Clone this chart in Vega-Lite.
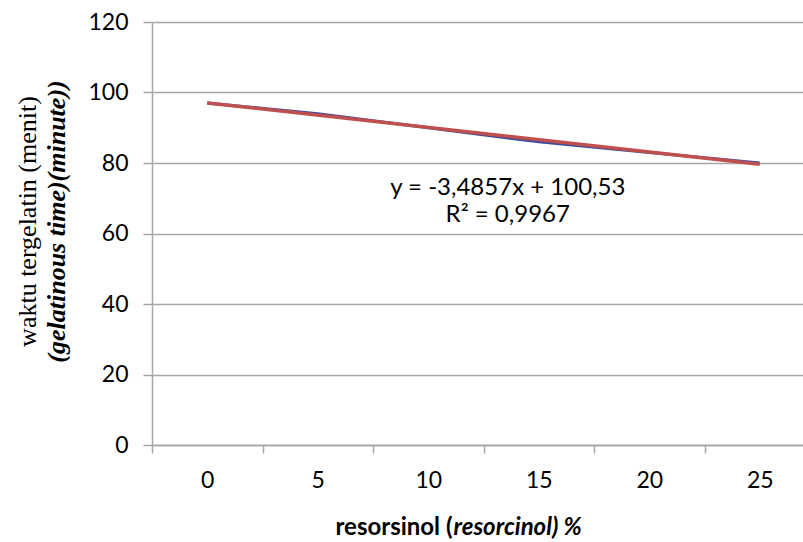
{
  "$schema": "https://vega.github.io/schema/vega-lite/v6.json",
  "autosize": {"type": "none"},
  "width": 663,
  "height": 423,
  "padding": {"left": 152, "top": 22, "right": 0, "bottom": 97},
  "background": "white",
  "config": {
    "view": {"stroke": null},
    "axis": {"labelFont": "Lato", "labelFontSize": 23, "labelColor": "#000000", "domainColor": "#A6A6A6", "tickColor": "#A6A6A6", "gridColor": "#A6A6A6", "domainWidth": 1.5, "tickWidth": 1.5, "gridWidth": 1.5}
  },
  "datasets": {
    "data": [
      {"resorsinol": "0", "waktu": 97},
      {"resorsinol": "5", "waktu": 94},
      {"resorsinol": "10", "waktu": 90},
      {"resorsinol": "15", "waktu": 86},
      {"resorsinol": "20", "waktu": 83},
      {"resorsinol": "25", "waktu": 80}
    ],
    "tren": [
      {"resorsinol": "0", "tren": 97.05},
      {"resorsinol": "25", "tren": 79.62}
    ],
    "label": [
      {"teks": "y = -3,4857x + 100,53\nR² = 0,9967"}
    ]
  },
  "layer": [
    {
      "data": {"name": "data"},
      "mark": {"type": "line", "color": "#3A4CA0", "strokeWidth": 3},
      "encoding": {
        "x": {
          "field": "resorsinol", "type": "nominal", "sort": ["0", "5", "10", "15", "20", "25"],
          "scale": {"type": "band", "domain": ["0", "5", "10", "15", "20", "25"], "paddingInner": 0, "paddingOuter": 0},
          "axis": {"orient": "bottom", "tickBand": "extent", "tickSize": 8, "labelAngle": 0, "labelPadding": 16, "grid": false,
            "title": "resorsinol (", "titleFont": "Lato", "titleFontSize": 24, "titleFontWeight": "bold", "titleColor": "#000000",
            "titleX": 300, "titleY": 82, "titleAlign": "right", "titleBaseline": "middle"}
        },
        "y": {
          "field": "waktu", "type": "quantitative",
          "scale": {"domain": [0, 120], "nice": false},
          "axis": {"orient": "left", "values": [0, 20, 40, 60, 80, 100, 120], "tickSize": 9, "labelPadding": 15, "grid": true,
            "title": "waktu tergelatin (menit)", "titleFont": "Liberation Serif", "titleFontSize": 26, "titleFontWeight": "normal", "titleColor": "#000000",
            "titleX": -125, "titleY": 199, "titleAlign": "center", "titleBaseline": "middle", "titleAngle": -90}
        }
      }
    },
    {
      "data": {"name": "tren"},
      "mark": {"type": "line", "color": "#C0504D", "strokeWidth": 3.5},
      "encoding": {
        "x": {
          "field": "resorsinol", "type": "nominal", "sort": ["0", "5", "10", "15", "20", "25"],
          "axis": {"orient": "bottom", "labels": false, "ticks": false, "domain": false, "grid": false,
            "title": "resorcinol) %", "titleFont": "Lato", "titleFontSize": 24, "titleFontWeight": "bold", "titleFontStyle": "italic", "titleColor": "#000000",
            "titleX": 301, "titleY": 82, "titleAlign": "left", "titleBaseline": "middle"}
        },
        "y": {
          "field": "tren", "type": "quantitative",
          "axis": {"orient": "left", "labels": false, "ticks": false, "domain": false, "grid": false,
            "title": "(gelatinous time)(minute))", "titleFont": "Liberation Serif", "titleFontSize": 26, "titleFontWeight": "bold", "titleFontStyle": "italic", "titleColor": "#000000",
            "titleX": -96, "titleY": 199, "titleAlign": "center", "titleBaseline": "middle", "titleAngle": -90}
        }
      }
    },
    {
      "data": {"name": "label"},
      "mark": {"type": "text", "font": "Lato", "fontSize": 24, "color": "#000000", "align": "center", "baseline": "middle", "lineBreak": "\n", "lineHeight": 27, "dx": -31},
      "encoding": {
        "x": {"datum": "15", "type": "nominal", "axis": null},
        "y": {"datum": 72.8, "type": "quantitative", "axis": null},
        "text": {"field": "teks"}
      }
    }
  ],
  "resolve": {"axis": {"x": "independent", "y": "independent"}}
}
